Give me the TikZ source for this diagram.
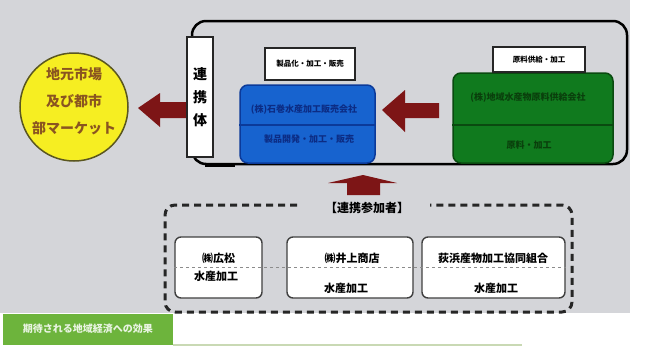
\documentclass[tikz,border=0pt]{standalone}
\usepackage{fontspec}
\setmainfont{Noto Sans CJK JP}
\definecolor{bg}{HTML}{D4D5D9}
\definecolor{darkred}{HTML}{7D1516}
\definecolor{circfill}{HTML}{F6EE22}
\definecolor{circline}{HTML}{5A5620}
\definecolor{circtext}{HTML}{8A5520}
\definecolor{bluefill}{HTML}{1763CF}
\definecolor{blueline}{HTML}{0B3A9A}
\definecolor{bluetext}{HTML}{0C2C84}
\definecolor{greenfill}{HTML}{107A1E}
\definecolor{greenline}{HTML}{0A4A10}
\definecolor{greentext}{HTML}{0A3F0C}
\definecolor{barg}{HTML}{6DB43C}
\definecolor{lightline}{HTML}{C9D9B4}
\begin{document}
\begin{tikzpicture}[x=1pt,y=-1pt,
  fs7/.style={font=\bfseries\fontsize{7.5}{9}\selectfont},
  fs9/.style={font=\bfseries\fontsize{9}{11}\selectfont},
  fs10/.style={font=\bfseries\fontsize{10}{12}\selectfont},
  fs11/.style={font=\bfseries\fontsize{11}{13}\selectfont},
  fs12/.style={font=\bfseries\fontsize{12}{14}\selectfont},
  fs14/.style={font=\bfseries\fontsize{14}{27}\selectfont},
  txt/.style={inner sep=0pt},
  whitebox/.style={draw=black!85, fill=white, line width=1.4pt, inner sep=0pt},
  member/.style={draw=black!75, fill=white, line width=1.4pt, rounded corners=6, inner sep=0pt, minimum height=61},
  arrowfill/.style={fill=darkred},
  dashframe/.style={draw=black!85, line width=3pt, dash pattern=on 7pt off 5pt, rounded corners=10}
]
\useasboundingbox (0,0) rectangle (648,349);
\fill[white] (0,0) rectangle (648,349);
\fill[bg] (0,0) rectangle (630,313);
% bottom green bar
\fill[barg] (3,314) rectangle (173,345);
\node[txt, fs10, text=white!85!barg] (bartxt) at (88,329) {期待される地域経済への効果};
\coordinate (lineA) at (173,345);
\coordinate (lineB) at (522,345);
\draw[lightline, line width=1.5pt] (lineA) -- (lineB);

% big frame
\node[draw=black, line width=2.5pt, rounded corners=14, minimum width=435, minimum height=143, inner sep=0pt] (frame) at (409.5,92.5) {};

% yellow circle
\node[circle, draw=circline, fill=circfill, line width=1.5pt, minimum size=108, inner sep=0pt] (mkt) at (74,107) {};
\node[txt, fs14, text=circtext, align=center] (mkttxt) at (74,101) {地元市場\\及び都市\\部マーケット};

% left arrow
\fill[arrowfill] (138,108) -- (160,93) -- (160,102) -- (186,102) -- (186,118) -- (160,118) -- (160,127) -- cycle;

% renkeitai box
\node[whitebox, minimum width=26, minimum height=120] (renkei) at (200,97) {};
\node[txt, fs14, align=center, font=\bfseries\fontsize{14}{23}\selectfont] (renkeitxt) at (200,97) {連\\携\\体};

% blue box
\node[draw=blueline, fill=bluefill, line width=1.5pt, rounded corners=8, minimum width=135, minimum height=78, inner sep=0pt] (blue) at (307.5,124) {};
\draw[blueline, line width=1.5pt] (blue.west |- 0,125) -- (blue.east |- 0,125);
\node[txt, fs9, text=bluetext] (bluet1) at (304,110) {(株)石巻水産加工販売会社};
\node[txt, fs9, text=bluetext] (bluet2) at (309,139) {製品開発・加工・販売};
\node[whitebox, minimum width=90, minimum height=32] (lbl1) at (310,64) {};
\node[txt, fs7] (lbl1t) at (310,64) {製品化・加工・販売};

% green box
\node[draw=greenline, fill=greenfill, line width=1.5pt, rounded corners=8, minimum width=160, minimum height=90, inner sep=0pt] (green) at (533,118) {};
\draw[greenline, line width=2pt] (green.west |- 0,125) -- (green.east |- 0,125);
\node[txt, fs9, text=greentext] (greent1) at (528,98) {(株)地域水産物原料供給会社};
\node[txt, fs9, text=greentext] (greent2) at (529,145) {原料・加工};
\node[whitebox, minimum width=92, minimum height=25] (lbl2) at (539,59.5) {};
\node[txt, fs7] (lbl2t) at (539,59.5) {原料供給・加工};

% redraw frame bottom line over boxes
\draw[black, line width=2.5pt] (frame.south west) ++(14,0) -- ++(30,0);

% arrow from green to blue
\fill[arrowfill] (382,110) -- (405,90) -- (405,103) -- (439,103) -- (439,118) -- (405,118) -- (405,132) -- cycle;

% up arrow
\fill[arrowfill] (363,175) -- (397,183) -- (380,183) -- (380,195) -- (347,195) -- (347,183) -- (328,183) -- cycle;

% participants
\node[txt, fs12] (partlbl) at (367,208) {【連携参加者】};
\draw[dashframe] (297,205) -- (165,205) -- (165,312) -- (572,312) -- (572,205) -- (430,205);

\node[member, minimum width=87] (m1) at (218.5,267.5) {};
\node[member, minimum width=126] (m2) at (350,267.5) {};
\node[member, minimum width=143] (m3) at (493.5,267.5) {};
\draw[black!45, line width=0.8pt, dashed] (m1.west) -- (m3.east);

\node[txt, fs11] (m1a) at (218.5,258) {㈱広松};
\node[txt, fs11] (m1b) at (216,276) {水産加工};
\node[txt, fs11] (m2a) at (352,258) {㈱井上商店};
\node[txt, fs11] (m2b) at (346,288) {水産加工};
\node[txt, fs11] (m3a) at (493,258) {荻浜産物加工協同組合};
\node[txt, fs11] (m3b) at (496,288) {水産加工};
\end{tikzpicture}
\end{document}
